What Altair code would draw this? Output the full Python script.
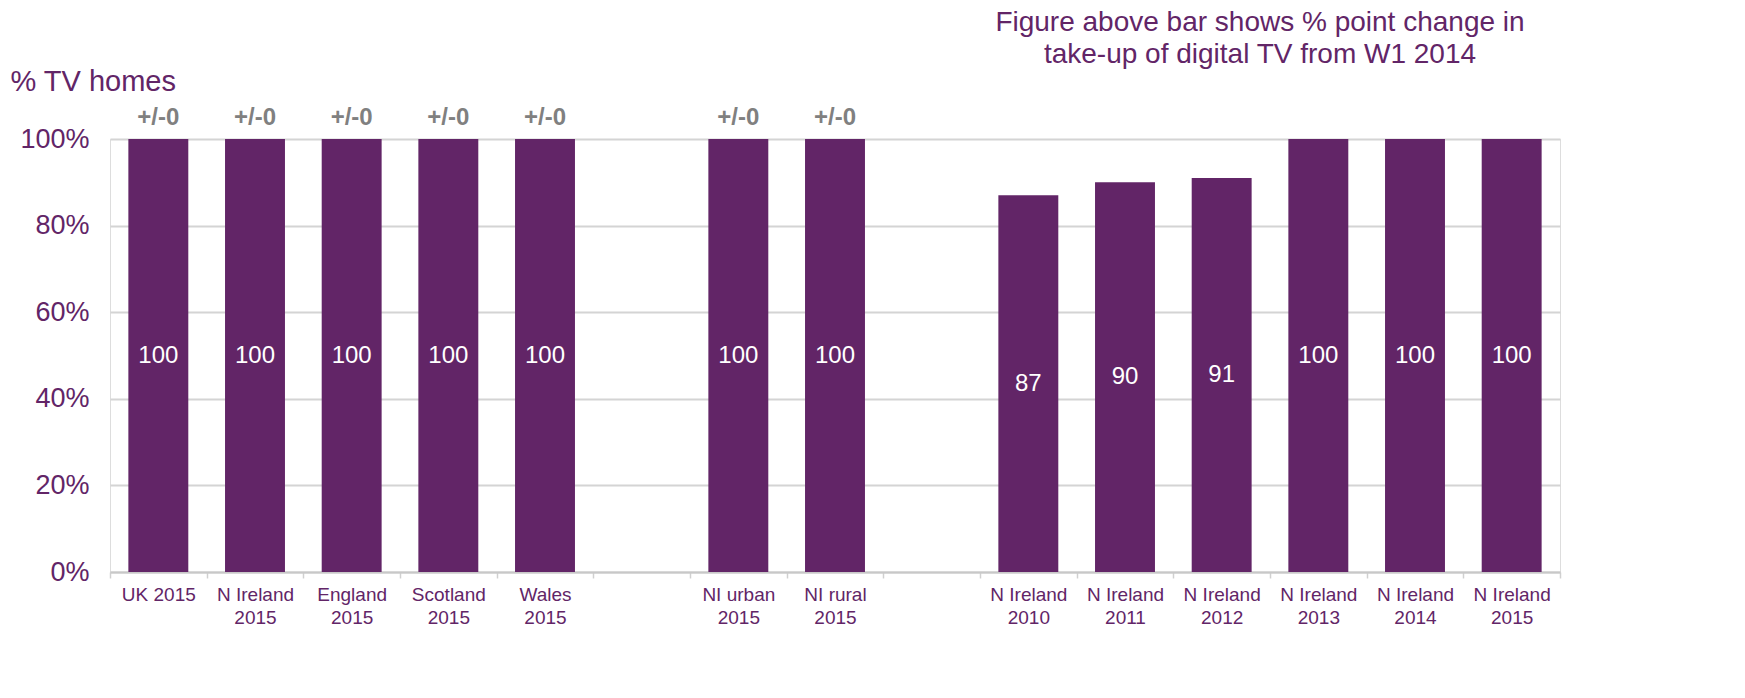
import json
import altair as alt
import pandas as pd

# ---- data ----
categories = ["UK 2015", "N Ireland 2015", "England 2015", "Scotland 2015", "Wales 2015", "",
              "NI urban 2015", "NI rural 2015", "",
              "N Ireland 2010", "N Ireland 2011", "N Ireland 2012", "N Ireland 2013",
              "N Ireland 2014", "N Ireland 2015"]
label_lines = [["UK 2015"], ["N Ireland", "2015"], ["England", "2015"], ["Scotland", "2015"],
               ["Wales", "2015"], [""], ["NI urban", "2015"], ["NI rural", "2015"], [""],
               ["N Ireland", "2010"], ["N Ireland", "2011"], ["N Ireland", "2012"],
               ["N Ireland", "2013"], ["N Ireland", "2014"], ["N Ireland", "2015"]]
values = [100, 100, 100, 100, 100, None, 100, 100, None, 87, 90, 91, 100, 100, 100]
changes = ["+/-0", "+/-0", "+/-0", "+/-0", "+/-0", None, "+/-0", "+/-0", None,
           None, None, None, None, None, None]
y_ticks = [0, 20, 40, 60, 80, 100]
note_lines = ["Figure above bar shows % point change in", "take-up of digital TV from W1 2014"]

PURPLE = "#622567"
GREY = "#808080"
FONT = "Liberation Sans"

keys = [f"{i:02d}" for i in range(len(categories))]
df = pd.DataFrame({"key": keys, "cat": categories, "value": values, "change": changes})
df["mid"] = df["value"] / 2

label_expr = json.dumps(label_lines).replace('"', "'") + "[toNumber(datum.value)]"

x = alt.X("key:N", sort=keys,
          scale=alt.Scale(domain=keys, paddingInner=0, paddingOuter=0),
          axis=alt.Axis(title=None, labelAngle=0, labelExpr=label_expr,
                        labelFont=FONT, labelFontSize=19, labelColor=PURPLE,
                        labelLineHeight=23, labelBaseline="top",
                        tickBand="extent", tickSize=6, tickColor="#d0d0d0",
                        tickWidth=1.5, domainColor="#c8c8c8", domainWidth=2,
                        labelPadding=7, grid=False))

yscale = alt.Scale(domain=[0, 100], nice=False)

base = alt.Chart(df).transform_filter("isValid(datum.value)")

bars = base.mark_bar(color=PURPLE, width=alt.RelativeBandSize(0.62)).encode(
    x=x,
    y=alt.Y("value:Q", scale=yscale,
            axis=alt.Axis(values=y_ticks, labelExpr="datum.value + '%'",
                          labelFont=FONT, labelFontSize=27, labelColor=PURPLE,
                          labelPadding=21, ticks=False, domain=False,
                          gridColor="#d4d4d4", gridWidth=2,
                          title="% TV homes", titleAngle=0, titleFont=FONT,
                          titleFontSize=29, titleFontWeight="normal",
                          titleColor=PURPLE, titleAlign="left",
                          titleBaseline="alphabetic", titleX=-100, titleY=-49)),
)

inner = base.mark_text(color="white", font=FONT, fontSize=24, baseline="middle").encode(
    x=alt.X("key:N", sort=keys), y=alt.Y("mid:Q", scale=yscale), text=alt.Text("value:Q"))

top = base.transform_filter("isValid(datum.change)").mark_text(
    color=GREY, font=FONT, fontSize=24, fontWeight="bold", baseline="bottom", dy=-9
).encode(x=alt.X("key:N", sort=keys), y=alt.Y("value:Q", scale=yscale), text="change:N")

note_layers = []
for i, line in enumerate(note_lines):
    note_layers.append(
        alt.Chart(pd.DataFrame({"line": [line]})).mark_text(
            color=PURPLE, font=FONT, fontSize=28, align="center", baseline="alphabetic"
        ).encode(x=alt.value(1150), y=alt.value(-108 + 32 * i), text="line:N")
    )

chart = alt.layer(bars, inner, top, *note_layers).properties(
    width=1450, height=433,
    autosize=alt.AutoSizeParams(type="none"),
    padding={"left": 102, "top": 131, "right": 177, "bottom": 110},
).configure_view(stroke=None).configure(background="white")

chart.save("out.html", embed_options={"renderer": "svg", "actions": False})
